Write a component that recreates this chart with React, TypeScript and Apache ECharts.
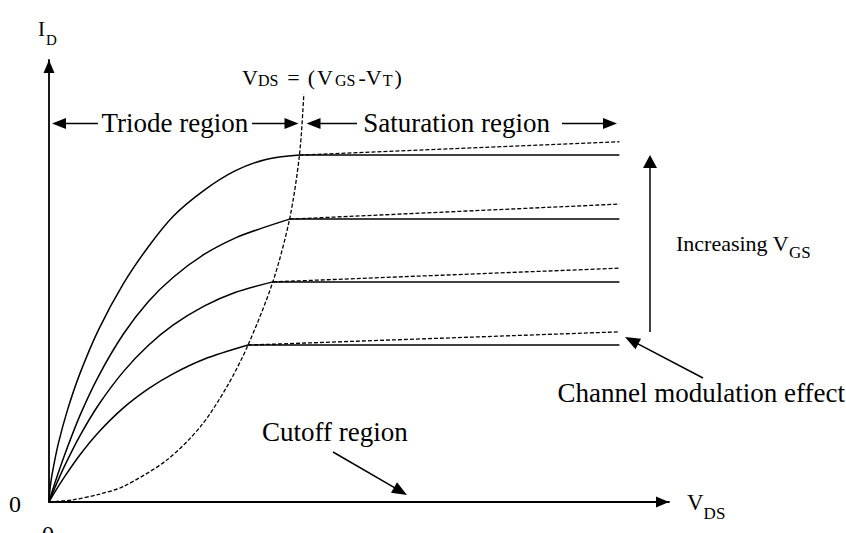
import React, { useEffect, useRef } from "react";
import * as echarts from "echarts";

// Triode-region samples (V_DS, I_D) from the origin up to pinch-off, highest V_GS first.
const triode1V = [0, 0.02, 0.05, 0.15, 0.3, 0.5, 0.8, 1.2, 1.6, 2.0, 2.5, 3.0, 3.5, 4.04];
const triode1I = [0, 0.34, 0.63, 1.32, 2.09, 2.91, 3.9, 4.94, 5.77, 6.46, 7.05, 7.49, 7.75, 7.85];
const triode2V = [0, 0.1, 0.25, 0.5, 0.8, 1.2, 1.6, 2.0, 2.5, 3.0, 3.4, 3.88];
const triode2I = [0, 0.45, 1.06, 1.96, 2.85, 3.8, 4.53, 5.08, 5.6, 5.97, 6.18, 6.4];
const triode3V = [0, 0.1, 0.25, 0.5, 0.8, 1.2, 1.6, 2.0, 2.5, 3.0, 3.61];
const triode3I = [0, 0.34, 0.81, 1.5, 2.2, 2.95, 3.54, 4.0, 4.43, 4.74, 4.98];
const triode4V = [0, 0.1, 0.25, 0.5, 0.8, 1.2, 1.6, 2.0, 2.5, 3.21];
const triode4I = [0, 0.24, 0.57, 1.07, 1.58, 2.13, 2.56, 2.9, 3.23, 3.55];

// Right end of the drawn saturation region (V_DS)
const satEndV = 9.2;
// I_D at satEndV once channel-length modulation is included, per curve
const clmEndI = [8.15, 6.74, 5.29, 3.85];

// Pinch-off locus V_DS = V_GS - V_T
const boundaryV = [0, 0.39, 0.82, 1.2, 1.9, 2.44, 2.87, 3.21, 3.61, 3.88, 4.04, 4.11];
const boundaryI = [0, 0.05, 0.18, 0.35, 0.95, 1.7, 2.61, 3.55, 4.98, 6.4, 7.85, 9.23];

const FAMILY = '"Liberation Serif", "Times New Roman", serif';
const INK = "#000";

let measureCtx: CanvasRenderingContext2D | null = null;
function textWidth(t: string, size: number): number {
  if (!measureCtx) measureCtx = document.createElement("canvas").getContext("2d");
  if (!measureCtx) return t.length * size * 0.5;
  measureCtx.font = `${size}px ${FAMILY}`;
  return measureCtx.measureText(t).width;
}

// One run of text: size in px, drop = how far its baseline sits below the line's baseline,
// dx = extra space before it.
type Seg = { t: string; size: number; drop?: number; dx?: number };

function textLine(x: number, baseline: number, segs: Seg[], align: "left" | "right" = "left") {
  const widths = segs.map((s) => textWidth(s.t, s.size) + (s.dx || 0));
  const total = widths.reduce((a, b) => a + b, 0);
  let cx = align === "left" ? x : x - total;
  const out: any[] = [];
  segs.forEach((s, i) => {
    const base = baseline + (s.drop || 0);
    out.push({
      type: "text",
      x: cx + (s.dx || 0),
      y: base - 0.3 * s.size,
      silent: true,
      style: {
        text: s.t,
        fill: INK,
        font: `${s.size}px ${FAMILY}`,
        textAlign: "left",
        textVerticalAlign: "middle",
      },
    });
    cx += widths[i];
  });
  return out;
}

// Straight arrow from (x1, y1) to a filled head at (x2, y2).
function arrow(x1: number, y1: number, x2: number, y2: number, len = 14, half = 5.5) {
  const dx = x2 - x1;
  const dy = y2 - y1;
  const d = Math.hypot(dx, dy);
  const ux = dx / d;
  const uy = dy / d;
  const bx = x2 - ux * len;
  const by = y2 - uy * len;
  return [
    {
      type: "line",
      silent: true,
      shape: { x1, y1, x2: bx + ux * 2, y2: by + uy * 2 },
      style: { stroke: INK, lineWidth: 1.5 },
    },
    {
      type: "polygon",
      silent: true,
      shape: {
        points: [
          [x2, y2],
          [bx - uy * half, by + ux * half],
          [bx + uy * half, by - ux * half],
        ],
      },
      style: { fill: INK },
    },
  ];
}

const solid = { color: INK, width: 1.5 };
const dashed = { color: INK, width: 1.3, type: [4, 2] as number[] };

function buildOption() {
  const curves: [number[], number[]][] = [
    [triode1V, triode1I],
    [triode2V, triode2I],
    [triode3V, triode3I],
    [triode4V, triode4I],
  ];
  const series: any[] = [];
  curves.forEach(([vs, is], k) => {
    const n = vs.length - 1;
    const satV = vs[n];
    const satI = is[n];
    series.push({
      type: "line",
      data: vs.map((v, i) => [v, is[i]]),
      smooth: 0.3,
      showSymbol: false,
      silent: true,
      lineStyle: solid,
    });
    series.push({
      type: "line",
      data: [
        [satV, satI],
        [satEndV, satI],
      ],
      showSymbol: false,
      silent: true,
      lineStyle: solid,
    });
    series.push({
      type: "line",
      data: [
        [satV, satI],
        [satEndV, clmEndI[k]],
      ],
      showSymbol: false,
      silent: true,
      lineStyle: dashed,
    });
  });
  series.push({
    type: "line",
    data: boundaryV.map((v, i) => [v, boundaryI[i]]),
    smooth: 0.3,
    showSymbol: false,
    silent: true,
    lineStyle: dashed,
  });

  const axisCommon = {
    type: "value",
    min: 0,
    max: 10,
    axisLine: {
      show: true,
      onZero: false,
      symbol: ["none", "triangle"],
      symbolSize: [11, 13],
      symbolOffset: [0, -6.5],
      lineStyle: { color: INK, width: 1.8 },
    },
    axisTick: { show: false },
    axisLabel: { show: false },
    splitLine: { show: false },
  };

  const graphic: any[] = [
    // axis titles and origin marks
    ...textLine(38, 35, [
      { t: "I", size: 21 },
      { t: "D", size: 15, drop: 9, dx: 1 },
    ]),
    ...textLine(687, 509.5, [
      { t: "V", size: 23 },
      { t: "DS", size: 17, drop: 9.5 },
    ]),
    ...textLine(9, 511, [{ t: "0", size: 24 }]),
    ...textLine(42, 541, [{ t: "0", size: 24 }]),
    // pinch-off locus label
    ...textLine(242, 84, [
      { t: "V", size: 22 },
      { t: "DS", size: 16, drop: 1 },
      { t: "=", size: 22, dx: 9 },
      { t: "(", size: 22, dx: 8 },
      { t: "V", size: 22, dx: 2 },
      { t: "GS", size: 16, drop: 1, dx: 2 },
      { t: "-", size: 22, dx: 3 },
      { t: "V", size: 22 },
      { t: "T", size: 16, drop: 1, dx: 1 },
      { t: ")", size: 22, dx: 2 },
    ]),
    // region spans
    ...arrow(98, 123.5, 52, 123.5),
    ...textLine(101.5, 131, [{ t: "Triode region", size: 27 }]),
    ...arrow(252, 123.5, 298.5, 123.5),
    ...arrow(357, 123.5, 306.5, 123.5),
    ...textLine(550, 131, [{ t: "Saturation region", size: 27 }], "right"),
    ...arrow(562, 123.5, 617, 123.5),
    // gate-voltage direction
    ...arrow(650, 332, 650, 155, 13, 7),
    ...textLine(676, 250, [
      { t: "Increasing V", size: 22 },
      { t: "GS", size: 17, drop: 8 },
    ]),
    // channel-length modulation callout
    ...arrow(703, 378, 625, 337, 15, 6),
    ...textLine(845, 401, [{ t: "Channel modulation effect", size: 27 }], "right"),
    // cutoff callout
    ...textLine(262, 440, [{ t: "Cutoff region", size: 27 }]),
    ...arrow(333, 452, 407, 495, 15, 6),
  ];

  return {
    animation: false,
    backgroundColor: "#fff",
    grid: { left: 49, top: 60, width: 620, height: 442 },
    xAxis: axisCommon,
    yAxis: axisCommon,
    series,
    graphic,
  };
}

export default function App() {
  const ref = useRef<HTMLDivElement>(null);
  useEffect(() => {
    if (!ref.current) return;
    const chart = echarts.init(ref.current, undefined, { renderer: "svg" });
    chart.setOption(buildOption() as any);
    return () => chart.dispose();
  }, []);
  return (
    <div
      ref={ref}
      style={{ position: "absolute", left: 0, top: 0, width: 846, height: 533, background: "#fff" }}
    />
  );
}
